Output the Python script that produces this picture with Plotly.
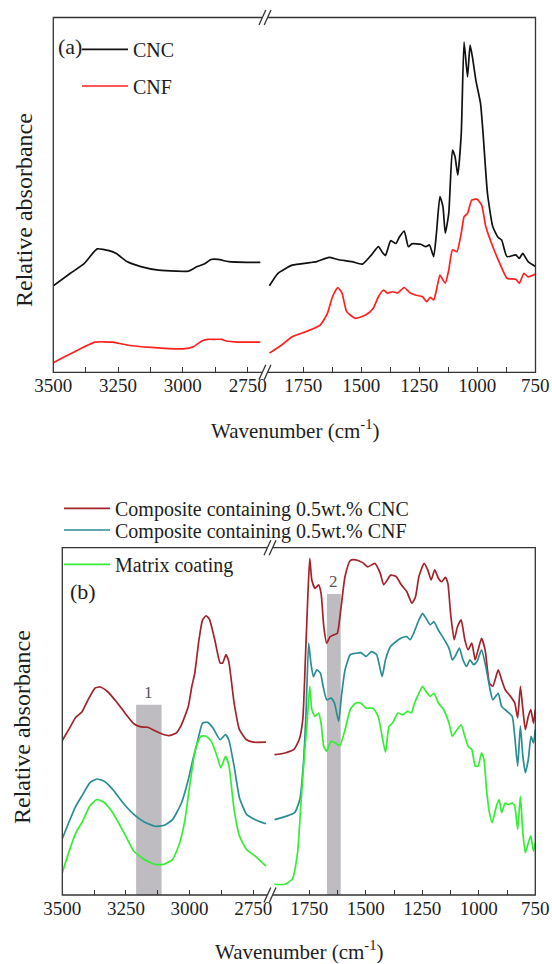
import plotly.graph_objects as go

# ---------------- data ----------------
# Panel (a): CNC and CNF, left (3500-2700) and right (1900-750) segments
cnc_left_wn = [3500, 3434, 3380, 3345, 3330, 3285, 3257, 3216, 3162, 3094, 3026, 2979, 2945, 2918, 2891, 2864, 2823, 2755, 2701]
cnc_left_ab = [24.4, 27.9, 30.7, 33.8, 34.8, 34.3, 33.5, 31.2, 29.8, 28.8, 28.5, 28.5, 29.8, 30.5, 31.8, 31.8, 31.2, 31.0, 31.0]
cnc_right_wn = [1896, 1859, 1798, 1722, 1692, 1639, 1601, 1540, 1495, 1456, 1426, 1411, 1396, 1373, 1351, 1335, 1315,
                1297, 1282, 1244, 1221, 1206, 1188, 1176, 1161, 1148, 1138, 1123, 1107, 1096, 1084, 1069, 1057, 1042,
                1031, 1021, 1006, 986, 975, 956, 933, 910, 895, 872, 834, 819, 804, 781, 749]
cnc_right_ab = [24.4, 27.9, 30.2, 30.9, 31.2, 32.4, 31.8, 31.2, 30.5, 33.1, 35.4, 34.0, 32.9, 37.1, 36.3, 38.2, 39.8,
                35.4, 36.2, 36.1, 35.4, 35.9, 32.6, 39.2, 49.5, 46.7, 39.2, 44.8, 62.6, 60.8, 55.6, 67.3, 93.1, 83.3,
                92.2, 88.9, 82.3, 75.8, 67.3, 50.4, 41.0, 38.0, 37.3, 32.6, 33.1, 32.1, 33.5, 31.2, 29.8]

cnf_left_wn = [3500, 3434, 3339, 3271, 3216, 3121, 2999, 2959, 2925, 2904, 2877, 2850, 2836, 2782, 2701]
cnf_left_ab = [2.7, 5.2, 8.5, 8.5, 7.7, 7.0, 6.6, 7.2, 8.9, 9.3, 9.3, 9.3, 8.9, 8.5, 8.5]
cnf_right_wn = [1896, 1843, 1798, 1737, 1677, 1646, 1624, 1601, 1583, 1563, 1525, 1480, 1449, 1426, 1404, 1388, 1366,
                1343, 1315, 1290, 1267, 1236, 1218, 1203, 1188, 1176, 1161, 1148, 1138, 1123, 1107, 1088, 1069, 1057,
                1042, 1024, 1001, 981, 963, 933, 903, 872, 834, 819, 799, 781, 749]
cnf_right_ab = [5.4, 7.7, 10.0, 11.5, 13.3, 16.6, 21.3, 23.9, 22.3, 17.1, 15.2, 16.2, 18.0, 21.3, 23.2, 22.3, 22.7,
                22.4, 23.9, 22.4, 21.8, 21.3, 19.9, 21.1, 20.4, 23.2, 27.4, 26.0, 25.1, 28.8, 34.5, 34.0, 39.2, 43.8,
                44.8, 48.5, 48.8, 47.1, 41.0, 35.4, 30.7, 26.5, 26.2, 25.1, 27.9, 26.9, 27.7]

# Panel (b): composites and matrix
comp_cnc_left_wn = [3500, 3475, 3447, 3424, 3399, 3371, 3351, 3323, 3288, 3254, 3219, 3191, 3164, 3136, 3102, 3081,
                    3053, 3032, 3005, 2991, 2980, 2963, 2949, 2935, 2922, 2901, 2880, 2870, 2857, 2846, 2825, 2804,
                    2776, 2749, 2700]
comp_cnc_left_ab = [44.5, 47.6, 51.2, 52.6, 56.2, 59.6, 59.9, 58.6, 55.7, 52.4, 49.3, 48.4, 48.3, 47.3, 46.2, 45.9,
                    46.6, 49.0, 54.3, 60.1, 63.7, 73.5, 79.2, 80.4, 79.4, 73.5, 66.8, 66.8, 69.2, 67.2, 55.3, 47.6,
                    44.7, 44.0, 44.0]
comp_cnc_right_wn = [1904, 1857, 1818, 1795, 1779, 1767, 1756, 1748, 1739, 1725, 1709, 1698, 1686, 1673, 1658, 1642,
                     1626, 1611, 1592, 1569, 1545, 1514, 1491, 1460, 1436, 1421, 1405, 1390, 1366, 1343, 1319, 1296,
                     1280, 1265, 1242, 1226, 1211, 1195, 1179, 1164, 1148, 1137, 1125, 1109, 1094, 1078, 1062, 1047,
                     1031, 1016, 1003, 988, 972, 953, 938, 914, 899, 883, 860, 841, 828, 816, 805, 794, 781, 770,
                     758, 750]
comp_cnc_right_ab = [40.4, 40.9, 41.9, 44.7, 50.5, 68.7, 86.9, 96.9, 90.7, 88.3, 89.3, 86.9, 77.3, 72.5, 74.4, 74.9,
                     75.4, 82.1, 91.7, 96.3, 96.5, 95.7, 94.5, 95.5, 92.6, 89.3, 90.7, 92.1, 91.7, 89.3, 87.4, 84.0,
                     85.9, 91.7, 95.5, 93.6, 90.7, 93.6, 91.2, 90.2, 91.5, 89.8, 81.1, 73.5, 77.3, 79.2, 73.5, 70.6,
                     72.5, 67.7, 70.6, 73.9, 70.6, 61.0, 60.1, 64.8, 62.0, 59.1, 57.2, 55.3, 51.0, 60.1, 53.4, 47.6,
                     51.4, 53.4, 49.5, 53.4]

comp_cnf_left_wn = [3500, 3475, 3447, 3420, 3392, 3364, 3337, 3302, 3261, 3219, 3178, 3136, 3102, 3067, 3032, 3005,
                    2987, 2970, 2949, 2929, 2908, 2880, 2859, 2846, 2825, 2804, 2776, 2742, 2700]
comp_cnf_left_ab = [16.2, 20.8, 25.6, 28.9, 32.3, 33.4, 32.8, 30.4, 26.5, 23.2, 21.0, 19.8, 20.0, 21.7, 26.5, 33.2,
                    39.0, 43.8, 49.5, 49.7, 48.1, 44.7, 46.2, 44.7, 37.1, 28.0, 23.2, 21.7, 20.5]
comp_cnf_right_wn = [1904, 1851, 1815, 1792, 1776, 1764, 1753, 1743, 1732, 1717, 1701, 1689, 1673, 1654, 1639, 1620,
                     1608, 1592, 1569, 1545, 1522, 1499, 1475, 1452, 1428, 1413, 1390, 1366, 1343, 1319, 1304, 1288,
                     1265, 1249, 1234, 1215, 1199, 1179, 1156, 1132, 1117, 1101, 1086, 1070, 1054, 1039, 1023, 1008,
                     988, 969, 950, 938, 914, 899, 875, 852, 841, 828, 816, 805, 794, 781, 769, 758, 750]
comp_cnf_right_ab = [21.7, 22.7, 23.7, 27.5, 38.0, 53.4, 72.5, 66.8, 62.9, 64.8, 63.9, 60.1, 56.2, 56.7, 55.3, 50.0,
                     57.2, 64.8, 69.2, 69.6, 69.8, 68.7, 70.1, 69.2, 62.9, 67.7, 71.6, 73.0, 74.0, 74.4, 73.5, 75.4,
                     79.2, 81.1, 79.7, 77.8, 78.7, 76.3, 73.9, 71.1, 67.7, 69.2, 71.1, 67.7, 65.8, 67.7, 66.3, 67.2,
                     70.6, 65.8, 59.1, 56.2, 58.1, 54.3, 52.9, 51.4, 45.7, 37.1, 48.6, 39.9, 35.2, 39.0, 45.7, 43.8,
                     47.6]

matrix_left_wn = [3500, 3475, 3447, 3420, 3392, 3364, 3337, 3302, 3261, 3219, 3178, 3136, 3102, 3067, 3039, 3018,
                  2998, 2977, 2956, 2935, 2915, 2894, 2877, 2859, 2846, 2825, 2804, 2776, 2742, 2700]
matrix_left_ab = [6.4, 12.2, 17.9, 21.3, 25.6, 27.5, 26.7, 23.7, 18.4, 12.6, 10.2, 8.8, 8.8, 10.2, 15.0, 21.7,
                  32.3, 41.9, 45.7, 45.7, 44.3, 40.4, 36.6, 39.9, 37.5, 24.6, 17.0, 13.1, 11.2, 8.3]
matrix_right_wn = [1904, 1857, 1826, 1802, 1787, 1771, 1760, 1748, 1739, 1725, 1709, 1698, 1686, 1673, 1654, 1636,
                   1615, 1592, 1569, 1545, 1522, 1499, 1468, 1445, 1428, 1413, 1397, 1382, 1358, 1335, 1315, 1299,
                   1284, 1265, 1249, 1234, 1215, 1199, 1179, 1156, 1132, 1117, 1097, 1078, 1062, 1047, 1031, 1016,
                   1003, 988, 977, 966, 953, 941, 922, 910, 899, 883, 868, 852, 841, 828, 816, 805, 794, 781, 770,
                   758, 750]
matrix_right_ab = [3.1, 3.1, 4.5, 12.2, 26.5, 40.9, 49.5, 60.1, 53.4, 51.4, 52.4, 49.5, 42.8, 41.4, 44.3, 43.8,
                   43.0, 47.6, 53.4, 55.3, 55.3, 53.8, 53.8, 51.4, 45.7, 41.1, 48.6, 49.5, 52.4, 51.9, 52.9, 52.4,
                   55.3, 58.1, 60.1, 58.6, 57.2, 58.1, 55.3, 53.4, 49.5, 45.7, 47.6, 49.0, 45.7, 42.8, 41.9, 37.1,
                   37.1, 40.9, 39.0, 30.4, 23.7, 20.8, 25.6, 27.5, 23.7, 26.5, 26.0, 26.5, 25.6, 18.9, 28.4, 17.9,
                   12.2, 15.0, 17.0, 12.6, 15.0]

# highlighted regions in panel (b): (from, to, top level, label)
band_from = [3210, 1672]
band_to = [3110, 1611]
band_top = [54.8, 86.7]
band_labels = ["1", "2"]

left_ticks = [3500, 3250, 3000, 2750]
left_tick_labels = ["3500", "3250", "3000", "2750"]
left_minor_ticks = [3375, 3125, 2875]
right_ticks = [1750, 1500, 1250, 1000, 750]
right_tick_labels = ["1750", "1500", "1250", "1000", "750"]
right_minor_ticks = [1625, 1375, 1125, 875]

names_a = ["CNC", "CNF"]
names_b = ["Composite containing 0.5wt.% CNC", "Composite containing 0.5wt.% CNF", "Matrix coating"]

# ---------------- style ----------------
W, H = 552, 964
FONT = "Liberation Serif"
TXT = "#1e1e1e"
AX = "#333333"
colors_a = ["#111111", "#ff2020"]
colors_b = ["#a3232a", "#2a8d94", "#33ee33"]


def fx(px):
    return px / W


def fy(py):
    return 1 - py / H


# panel geometry (pixels)
A = dict(l=53.3, brk=265.0, r=535.5, t=17.5, b=372.3, lrange=[3500, 2683], rrange=[1915, 749])
B = dict(l=62.3, brk=270.0, r=535.3, t=547.7, b=895.0, lrange=[3500, 2684], rrange=[1924, 750])

fig = go.Figure()

series_a = [(cnc_left_wn, cnc_left_ab, cnc_right_wn, cnc_right_ab),
            (cnf_left_wn, cnf_left_ab, cnf_right_wn, cnf_right_ab)]
series_b = [(comp_cnc_left_wn, comp_cnc_left_ab, comp_cnc_right_wn, comp_cnc_right_ab),
            (comp_cnf_left_wn, comp_cnf_left_ab, comp_cnf_right_wn, comp_cnf_right_ab),
            (matrix_left_wn, matrix_left_ab, matrix_right_wn, matrix_right_ab)]

for s in series_a + series_b:
    if len(s[0]) != len(s[1]) or len(s[2]) != len(s[3]):
        raise ValueError("length mismatch")

legend_ids = ["legend", "legend2", "legend3", "legend4", "legend5"]
k = 0
for i, (lw, la, rw, ra) in enumerate(series_a):
    for j, (xw, ya, xa) in enumerate([(lw, la, "x"), (rw, ra, "x2")]):
        fig.add_trace(go.Scatter(x=xw, y=ya, xaxis=xa, yaxis="y", mode="lines", name=names_a[i],
                                 line=dict(color=colors_a[i], width=1.7, shape="spline", smoothing=0.5),
                                 legendgroup=names_a[i], showlegend=(j == 0), legend=legend_ids[k]))
    k += 1
for i, (lw, la, rw, ra) in enumerate(series_b):
    for j, (xw, ya, xa) in enumerate([(lw, la, "x3"), (rw, ra, "x4")]):
        fig.add_trace(go.Scatter(x=xw, y=ya, xaxis=xa, yaxis="y2", mode="lines", name=names_b[i],
                                 line=dict(color=colors_b[i], width=1.7, shape="spline", smoothing=0.5),
                                 legendgroup=names_b[i], showlegend=(j == 0), legend=legend_ids[k]))
    k += 1


def xcfg(dom, rng, anchor, vals, labels, minor_vals):
    return dict(domain=dom, range=rng, anchor=anchor, showgrid=False, zeroline=False, showline=False,
                automargin=False,
                ticks="inside", ticklen=5, tickwidth=1, tickcolor=AX,
                tickmode="array", tickvals=vals, ticktext=labels,
                minor=dict(tickmode="array", tickvals=minor_vals, ticks="inside", ticklen=5, tickwidth=1,
                           tickcolor=AX, showgrid=False),
                tickfont=dict(family=FONT, size=19, color=TXT))


def ycfg(dom):
    return dict(domain=dom, range=[0, 100], showgrid=False, zeroline=False, showline=False,
                showticklabels=False, ticks="", fixedrange=True, automargin=False)


layout = dict(
    width=W, height=H, autosize=False,
    margin=dict(l=0, r=0, t=0, b=0, pad=0, autoexpand=False),
    paper_bgcolor="white", plot_bgcolor="white",
    font=dict(family=FONT, color=TXT),
    xaxis=xcfg([fx(A["l"]), fx(A["brk"])], A["lrange"], "y", left_ticks, left_tick_labels, left_minor_ticks),
    xaxis2=xcfg([fx(A["brk"]), fx(A["r"])], A["rrange"], "y", right_ticks, right_tick_labels, right_minor_ticks),
    xaxis3=xcfg([fx(B["l"]), fx(B["brk"])], B["lrange"], "y2", left_ticks, left_tick_labels, left_minor_ticks),
    xaxis4=xcfg([fx(B["brk"]), fx(B["r"])], B["rrange"], "y2", right_ticks, right_tick_labels, right_minor_ticks),
    yaxis=ycfg([fy(A["b"]), fy(A["t"])]),
    yaxis2=ycfg([fy(B["b"]), fy(B["t"])]),
)

# legends: one per item so spacing can match the original
leg_pos = [(77, 49.3), (77, 86.0), (59, 508.3), (59, 530.0), (59, 564.3)]
for lid, (lx, ly) in zip(legend_ids, leg_pos):
    layout[lid] = dict(x=fx(lx), y=fy(ly), xanchor="left", yanchor="middle", bgcolor="rgba(0,0,0,0)",
                       borderwidth=0, itemwidth=46, font=dict(family=FONT, size=20, color=TXT),
                       itemclick=False, itemdoubleclick=False)

fig.update_layout(**layout)

shapes = []
# highlighted bands (data coordinates of panel b)
band_axes = ["x3", "x4"]
for bf, bt, top, xa in zip(band_from, band_to, band_top, band_axes):
    shapes.append(dict(type="rect", xref=xa, yref="y2", x0=bf, x1=bt, y0=0, y1=top,
                       fillcolor="#bebcc0", line=dict(width=0), layer="below"))

# frames and axis break marks
for P in (A, B):
    shapes.append(dict(type="rect", xref="paper", yref="paper", x0=fx(P["l"]), x1=fx(P["r"]),
                       y0=fy(P["b"]), y1=fy(P["t"]), line=dict(color=AX, width=1.3), layer="above"))
    for yb in (P["t"], P["b"]):
        shapes.append(dict(type="line", xref="paper", yref="paper", x0=fx(P["brk"] - 3), x1=fx(P["brk"] + 3),
                           y0=fy(yb), y1=fy(yb), line=dict(color="white", width=4), layer="above"))
        for off in (-2.6, 2.6):
            cx = P["brk"] + off
            shapes.append(dict(type="line", xref="paper", yref="paper",
                               x0=fx(cx - 3.4), y0=fy(yb + 7.5), x1=fx(cx + 3.4), y1=fy(yb - 7.5),
                               line=dict(color=AX, width=1.3), layer="above"))

annotations = []
for bf, bt, top, xa, lab in zip(band_from, band_to, band_top, band_axes, band_labels):
    annotations.append(dict(x=(bf + bt) / 2, y=top, xref=xa, yref="y2", text=lab, showarrow=False,
                            xanchor="center", yanchor="bottom", yshift=1,
                            font=dict(family=FONT, size=17, color="#555555")))


def label(px, py, text, size, angle=0):
    return dict(x=fx(px), y=fy(py), xref="paper", yref="paper", text=text, showarrow=False,
                xanchor="center", yanchor="middle", textangle=angle,
                font=dict(family=FONT, size=size, color=TXT))


annotations += [
    label(70, 46, "(a)", 22),
    label(83, 591, "(b)", 22),
    label(295, 430, "Wavenumber (cm<sup>-1</sup>)", 21),
    label(299, 950, "Wavenumber (cm<sup>-1</sup>)", 21),
    label(24, 210, "Relative absorbance", 24, -90),
    label(22, 727, "Relative absorbance", 24, -90),
]

fig.update_layout(shapes=shapes, annotations=annotations)
# remove the browser's default 8px page margin so the figure fills the window exactly
fig.write_html("out.html", config={"displayModeBar": False, "staticPlot": True},
               post_script="document.body.style.margin='0';")
